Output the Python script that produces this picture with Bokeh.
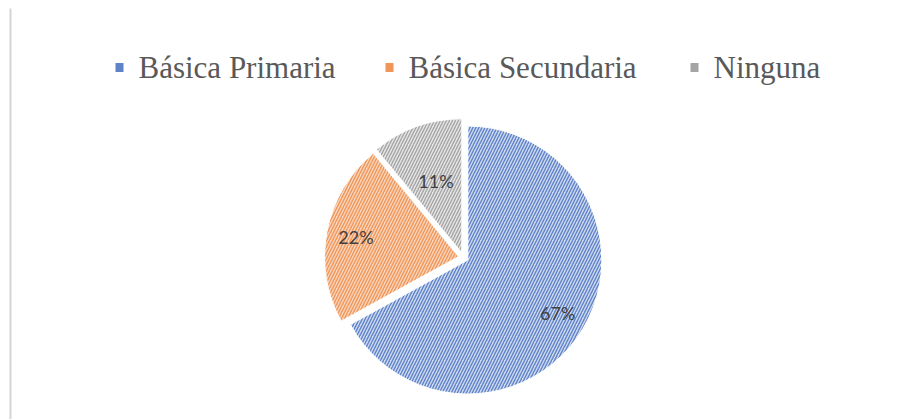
import math
from bokeh.plotting import figure
from bokeh.models import ColumnDataSource, BoxAnnotation, Range1d
from bokeh.core.properties import value
from bokeh.embed import file_html
from bokeh.resources import INLINE

# ---- data ----
categories = ["Básica Primaria", "Básica Secundaria", "Ninguna"]
shares = [67, 22, 11]
pct_labels = ["67%", "22%", "11%"]

# ---- style ----
fill_colors = ["#cfdbf1", "#fbd6bd", "#e6e6e6"]
hatch_colors = ["#5f82c8", "#ef9658", "#a5a5a5"]
label_radius_frac = [0.78, 0.78, 0.57]
legend_x = [119, 389, 694]      # legend square centres (px)
legend_y_top = 67               # legend row centre from top (px)

W, H = 905, 419
cx, cy = 463, H - 257
R = 134
explode = 5

total = float(sum(shares))
starts, ends, xs, ys, lx, ly = [], [], [], [], [], []
cum = 0.0
for i, s in enumerate(shares):
    f0 = cum / total
    f1 = (cum + s) / total
    cum += s
    a0 = math.pi / 2 - 2 * math.pi * f0
    a1 = math.pi / 2 - 2 * math.pi * f1
    mid = (a0 + a1) / 2
    ox = cx + explode * math.cos(mid)
    oy = cy + explode * math.sin(mid)
    starts.append(a0)
    ends.append(a1)
    xs.append(ox)
    ys.append(oy)
    lx.append(ox + label_radius_frac[i] * R * math.cos(mid))
    ly.append(oy + label_radius_frac[i] * R * math.sin(mid))

p = figure(width=W, height=H, output_backend="svg", toolbar_location=None,
           x_range=Range1d(0, W), y_range=Range1d(0, H),
           min_border=0, background_fill_color="white", border_fill_color="white")
p.axis.visible = False
p.grid.visible = False
p.outline_line_color = None

for i in range(len(categories)):
    p.wedge(x=xs[i], y=ys[i], radius=R, start_angle=starts[i], end_angle=ends[i],
            direction="clock", fill_color=fill_colors[i], line_color="white", line_width=1,
            hatch_pattern="/", hatch_color=hatch_colors[i], hatch_scale=6, hatch_weight=1.4)

lab_src = ColumnDataSource(dict(x=lx, y=ly, t=pct_labels))
p.text(x="x", y="y", text="t", source=lab_src, text_align="center", text_baseline="middle",
       text_font=value("Lato"), text_font_size="18px", text_color="#404040")

# legend (drawn manually)
leg_src = ColumnDataSource(dict(x=legend_x, y=[H - legend_y_top] * 3,
                                tx=[v + 19 for v in legend_x], ty=[H - legend_y_top] * 3,
                                fill=fill_colors, hatch=hatch_colors, cat=categories))
p.rect(x="x", y="y", width=8, height=9, source=leg_src, fill_color="hatch", line_color=None)
p.text(x="tx", y="ty", text="cat", source=leg_src, text_align="left", text_baseline="alphabetic",
       text_font=value("Liberation Serif"), text_font_size="31px", text_color="#595959")

# left chart border
p.add_layout(BoxAnnotation(left=9, right=11, bottom=0, top=H - 8,
                           fill_color="#d4d4d4", fill_alpha=1, line_color=None))

open("out.html", "w").write(file_html(p, INLINE))
